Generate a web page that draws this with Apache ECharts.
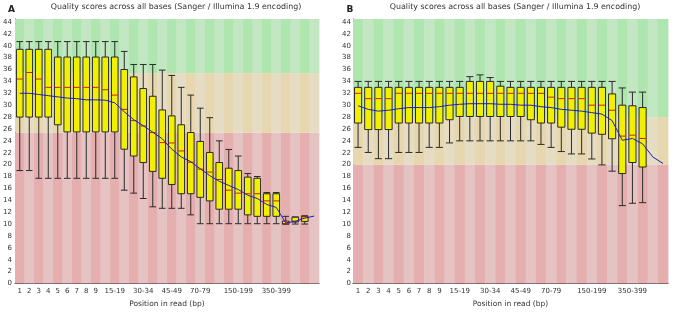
<!DOCTYPE html>
<html>
<head>
<meta charset="utf-8">
<script src="https://cdn.jsdelivr.net/npm/echarts@6/dist/echarts.min.js"></script>
<style>
html, body { margin: 0; padding: 0; background: #fff; }
#chart { width: 678px; height: 313px; }
</style>
</head>
<body>
<div id="chart"></div>
<script>
// base groups (FastQC style) and the labels that are actually printed
const groupsA = ['1', '2', '3', '4', '5', '6', '7', '8', '9', '10-14', '15-19', '20-24', '25-29', '30-34', '35-39', '40-44',
  '45-49', '50-59', '60-69', '70-79', '80-89', '90-99', '100-149', '150-199', '200-249', '250-299', '300-349',
  '350-399', '400-449', '450-499', '500-549', '550-599'];
const groupsB = groupsA.slice(0, 31);
const shownLabels = ['1', '2', '3', '4', '5', '6', '7', '8', '9', '15-19', '30-34', '45-49', '70-79', '150-199', '350-399'];

// quality zone limits: [red/orange, orange/green]
const zonesA = [25.4, 35.4];
const zonesB = [20, 28];
const yMax = 44.5;

// mean quality per group
const meanA = [32.0, 32.0, 31.8, 31.6, 31.4, 31.2, 31.1, 30.9, 30.9, 30.85, 30.4, 28.9, 27.55, 26.55, 25.45, 24.35,
  22.6, 21.3, 20.5, 19.3, 18.15, 17.2, 16.5, 15.8, 14.85, 14.3, 13.3, 12.8, 10.2, 10.45, 11.0, 11.35];
const meanB = [29.9, 29.3, 29.0, 29.15, 29.4, 29.6, 29.6, 29.6, 29.75, 30.0, 30.15, 30.25, 30.25, 30.25, 30.15, 30.15,
  30.0, 30.0, 29.75, 29.6, 29.3, 29.15, 29.0, 28.75, 28.5, 27.4, 24.1, 24.4, 23.5, 21.3, 20.2];

// boxes: [lower whisker, Q1, median, Q3, upper whisker]
const boxA = [
  [19.0, 28.0, 34.4, 39.4, 40.7], [19.0, 28.0, 35.5, 39.4, 40.7], [17.7, 28.0, 34.4, 39.4, 40.7], [17.7, 28.0, 33.0, 39.4, 40.7],
  [17.7, 26.7, 33.0, 38.1, 40.7], [17.7, 25.5, 33.0, 38.1, 40.7], [17.7, 25.5, 33.0, 38.1, 40.7], [17.7, 25.5, 33.0, 38.1, 40.7],
  [17.7, 25.5, 33.0, 38.1, 40.7], [17.7, 25.5, 32.6, 38.1, 40.7], [17.7, 25.5, 31.7, 38.1, 40.7], [15.7, 22.6, 29.3, 36.0, 39.05],
  [15.2, 21.45, 27.4, 34.76, 36.85], [14.3, 20.35, 26.5, 32.8, 36.85], [12.9, 18.86, 25.4, 31.5, 36.85], [12.65, 17.7, 23.7, 29.2, 35.9],
  [12.65, 16.66, 23.65, 28.2, 35.0], [12.65, 15.1, 22.3, 26.7, 33.0], [11.55, 15.1, 20.4, 25.4, 31.7], [10.06, 14.5, 19.25, 23.9, 29.5],
  [10.06, 13.9, 18.75, 22.05, 27.9], [10.06, 12.5, 17.5, 20.35, 24.0], [10.06, 12.5, 15.7, 19.4, 22.55], [10.06, 12.5, 15.2, 19.0, 21.45],
  [10.06, 11.55, 15.1, 17.9, 18.5], [10.06, 11.3, 15.1, 17.7, 18.0], [10.06, 11.3, 13.9, 15.1, 15.3], [10.06, 11.3, 13.9, 15.1, 15.3],
  [10.0, 10.0, 10.1, 10.5, 11.3], [10.0, 10.35, 10.5, 11.15, 11.2], [10.0, 10.45, 11.2, 11.3, 11.4]
];
const boxB = [
  [22.9, 27.0, 32.0, 33.0, 34.0], [22.05, 25.9, 31.1, 33.0, 34.0], [21.0, 25.9, 31.1, 33.0, 34.0], [21.0, 25.9, 31.1, 33.0, 34.0],
  [22.05, 27.0, 32.0, 33.0, 34.0], [22.05, 27.0, 32.0, 33.0, 34.0], [22.05, 27.0, 32.0, 33.0, 34.0], [22.9, 27.0, 32.0, 33.0, 34.0],
  [22.9, 27.0, 32.0, 33.0, 34.0], [23.65, 27.55, 32.0, 33.0, 34.0], [24.0, 28.1, 32.0, 33.0, 34.0], [24.0, 28.1, 32.0, 34.0, 34.8],
  [24.0, 28.1, 32.0, 34.0, 35.1], [24.0, 28.1, 32.0, 34.0, 34.65], [24.0, 28.1, 32.0, 33.2, 34.0], [24.0, 28.1, 32.0, 33.0, 34.0],
  [24.0, 28.1, 32.0, 33.0, 34.0], [24.0, 27.55, 32.0, 33.0, 34.0], [23.4, 27.0, 32.0, 33.0, 34.0], [22.9, 27.0, 31.35, 33.0, 34.0],
  [22.2, 26.3, 31.1, 33.0, 34.0], [21.8, 25.95, 31.1, 33.0, 34.0], [21.8, 25.95, 31.1, 33.0, 34.0], [20.95, 25.3, 30.0, 33.0, 34.0],
  [19.96, 25.1, 30.0, 33.0, 34.0], [18.9, 24.35, 29.15, 31.9, 34.0], [13.1, 18.5, 24.8, 30.0, 32.9], [13.5, 20.35, 24.95, 29.9, 32.2],
  [13.6, 19.6, 24.4, 29.6, 32.2]
];

const font = 'DejaVu Sans';
const title = 'Quality scores across all bases (Sanger / Illumina 1.9 encoding)';
// [darker, lighter] stripe for red, orange, green
const zoneColors = [['#e6afaf', '#e6c3c3'], ['#e6d7af', '#e6dcc3'], ['#afe6af', '#c3e6c3']];

function stripeItem(cuts) {
  const edges = [0].concat(cuts, [yMax]);
  return function (params, api) {
    const i = api.value(0);
    const w = api.size([1, 0])[0];
    const children = [];
    for (let z = 0; z < 3; z++) {
      const top = api.coord([i, edges[z + 1]]);
      const bot = api.coord([i, edges[z]]);
      children.push({
        type: 'rect',
        shape: { x: top[0] - w / 2, y: top[1], width: w + 0.4, height: bot[1] - top[1] },
        style: { fill: zoneColors[z][i % 2] }
      });
    }
    return { type: 'group', children: children };
  };
}

function boxItem(params, api) {
  const i = api.value(0);
  const w = api.size([1, 0])[0] * 0.7;
  const lo = api.coord([i, api.value(1)]);
  const q1 = api.coord([i, api.value(2)]);
  const md = api.coord([i, api.value(3)]);
  const q3 = api.coord([i, api.value(4)]);
  const hi = api.coord([i, api.value(5)]);
  const x = lo[0];
  const line = { stroke: '#2a2a2a', lineWidth: 1 };
  return {
    type: 'group',
    children: [
      { type: 'line', shape: { x1: x, y1: lo[1], x2: x, y2: hi[1] }, style: line },
      { type: 'line', shape: { x1: x - w / 2, y1: lo[1], x2: x + w / 2, y2: lo[1] }, style: line },
      { type: 'line', shape: { x1: x - w / 2, y1: hi[1], x2: x + w / 2, y2: hi[1] }, style: line },
      { type: 'rect', shape: { x: x - w / 2, y: q3[1], width: w, height: q1[1] - q3[1] }, style: { fill: '#f0f000', stroke: '#2a2a2a', lineWidth: 1 } },
      { type: 'line', shape: { x1: x - w / 2 + 0.5, y1: md[1], x2: x + w / 2 - 0.5, y2: md[1] }, style: { stroke: '#d21e00', lineWidth: 1 } }
    ]
  };
}

function xAxisFor(groups, gridIndex) {
  return {
    type: 'category', gridIndex: gridIndex, data: groups, boundaryGap: true,
    axisLine: { lineStyle: { color: '#222', width: 1 } }, axisTick: { show: false },
    axisLabel: {
      interval: 0, margin: 4, fontFamily: font, fontSize: 7, color: '#333', hideOverlap: false,
      formatter: function (v) { return shownLabels.indexOf(v) >= 0 ? v : ''; }
    },
    name: 'Position in read (bp)', nameLocation: 'middle', nameGap: 16.5,
    nameTextStyle: { fontFamily: font, fontSize: 7.5, color: '#333' }
  };
}

function yAxisFor(gridIndex, margin) {
  return {
    type: 'value', gridIndex: gridIndex, min: 0, max: yMax, interval: 2,
    axisLine: { show: true, lineStyle: { color: '#222', width: 1 } }, axisTick: { show: false },
    splitLine: { show: false },
    axisLabel: {
      margin: margin, fontFamily: font, fontSize: 7, color: '#333', showMaxLabel: false,
      formatter: function (v) { return v % 2 === 0 ? String(v) : ''; }
    }
  };
}

const chart = echarts.init(document.getElementById('chart'), null, { renderer: 'canvas' });
chart.setOption({
  animation: false,
  backgroundColor: '#fff',
  grid: [
    { left: 15, right: 359, top: 19, bottom: 24.7 },
    { left: 353, right: 10, top: 19, bottom: 24.7 }
  ],
  xAxis: [xAxisFor(groupsA, 0), xAxisFor(groupsB, 1)],
  yAxis: [yAxisFor(0, 3), yAxisFor(1, 2)],
  graphic: [
    { type: 'text', x: 11.5, y: 10, style: { text: 'A', font: 'bold 9px "DejaVu Sans"', fill: '#222', align: 'center', verticalAlign: 'middle' } },
    { type: 'text', x: 350, y: 10, style: { text: 'B', font: 'bold 9px "DejaVu Sans"', fill: '#222', align: 'center', verticalAlign: 'middle' } },
    { type: 'text', x: 176, y: 7, style: { text: title, font: '7.9px "DejaVu Sans"', fill: '#333', align: 'center', verticalAlign: 'middle' } },
    { type: 'text', x: 515, y: 7, style: { text: title, font: '7.9px "DejaVu Sans"', fill: '#333', align: 'center', verticalAlign: 'middle' } }
  ],
  series: [
    { type: 'custom', xAxisIndex: 0, yAxisIndex: 0, z: 1, silent: true, renderItem: stripeItem(zonesA),
      data: groupsA.map(function (g, i) { return [i]; }), encode: { x: 0 } },
    { type: 'custom', xAxisIndex: 1, yAxisIndex: 1, z: 1, silent: true, renderItem: stripeItem(zonesB),
      data: groupsB.map(function (g, i) { return [i]; }), encode: { x: 0 } },
    { type: 'custom', xAxisIndex: 0, yAxisIndex: 0, z: 3, renderItem: boxItem,
      data: boxA.map(function (b, i) { return [i].concat(b); }), encode: { x: 0, y: [1, 2, 3, 4, 5] } },
    { type: 'custom', xAxisIndex: 1, yAxisIndex: 1, z: 3, renderItem: boxItem,
      data: boxB.map(function (b, i) { return [i].concat(b); }), encode: { x: 0, y: [1, 2, 3, 4, 5] } },
    { type: 'line', xAxisIndex: 0, yAxisIndex: 0, z: 5, data: meanA, symbol: 'none',
      lineStyle: { color: '#1e1ec8', width: 1 } },
    { type: 'line', xAxisIndex: 1, yAxisIndex: 1, z: 5, data: meanB, symbol: 'none',
      lineStyle: { color: '#1e1ec8', width: 1 } }
  ]
});
</script>
</body>
</html>
